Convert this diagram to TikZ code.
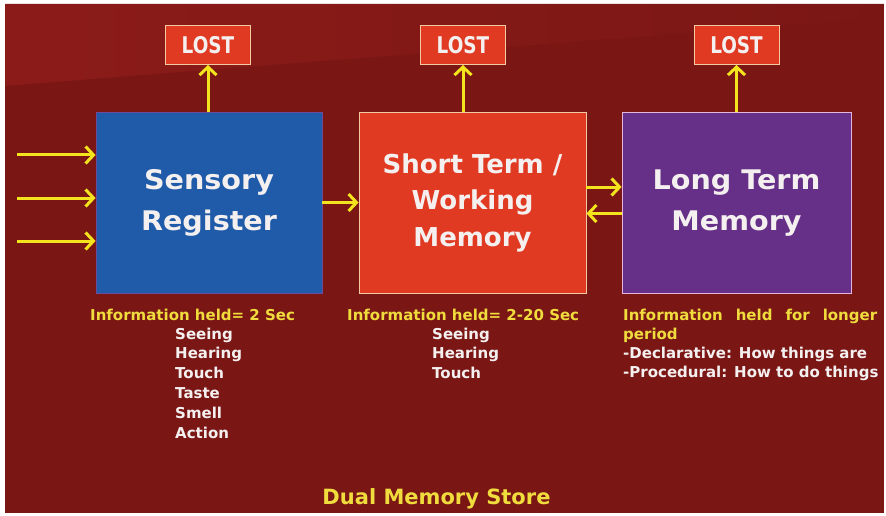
\documentclass[tikz,border=0pt]{standalone}
\usepackage{fontspec}
\setmainfont{DejaVu Sans}
\newfontfamily\boxfont[FakeStretch=1.06]{DejaVu Sans}
\newfontfamily\lostfont[FakeStretch=0.8]{DejaVu Sans}
\usetikzlibrary{arrows.meta}
\definecolor{bgred}{HTML}{7A1715}
\definecolor{bglight}{HTML}{8B1B18}
\definecolor{sensblue}{HTML}{1F5BA9}
\definecolor{shortred}{HTML}{E13A23}
\definecolor{longpurple}{HTML}{663088}
\definecolor{lostred}{HTML}{E13A23}
\definecolor{peach}{HTML}{F3C9A2}
\definecolor{pinkborder}{HTML}{E6B5DD}
\definecolor{blueborder}{HTML}{6A4C9C}
\definecolor{arryellow}{HTML}{F3E41E}
\definecolor{txtyellow}{HTML}{F0DC3C}
\definecolor{txtwhite}{HTML}{F5F0F0}
\begin{document}
\begin{tikzpicture}[x=1pt,y=-1pt,
  membox/.style={draw, line width=0.8pt, inner sep=0pt, align=center,
    minimum height=181pt, text=txtwhite,
    font=\boxfont\bfseries\fontsize{27}{41}\selectfont},
  lostbox/.style={draw=peach, fill=lostred, line width=1pt, inner sep=0pt,
    minimum width=85pt, minimum height=39pt, text=txtwhite,
    font=\lostfont\bfseries\fontsize{23}{23}\selectfont},
  yarr/.style={draw=arryellow, line width=3pt,
    -{Straight Barb[length=8pt,width=17pt]}},
  yeltext/.style={inner sep=0pt, anchor=base west, text=txtyellow,
    font=\bfseries\fontsize{15}{19}\selectfont},
  whttext/.style={inner sep=0pt, anchor=base west, text=txtwhite,
    font=\bfseries\fontsize{15}{19}\selectfont}
]
\useasboundingbox (0,0) rectangle (886,516);
\fill[white] (0,0) rectangle (886,516);
\fill[bgred] (5,4) rectangle (884,513);
\shade[left color=bglight, right color=bgred]
  (5,4) -- (884,4) -- (884,18) .. controls (600,40) and (300,62) .. (5,86) -- cycle;

% memory boxes
\node[membox, fill=sensblue, draw=blueborder, minimum width=226pt] (sr) at (209,202.5) {Sensory\\Register};
\node[membox, fill=shortred, draw=peach, minimum width=227pt,
  font=\bfseries\fontsize{26}{36.5}\selectfont] (st) at (472.5,202.5) {Short Term /\\Working\\Memory};
\node[membox, fill=longpurple, draw=pinkborder, minimum width=229pt] (lt) at (736.5,203) {Long Term\\Memory};

% LOST boxes
\node[lostbox] (l1) at (208,45) {LOST};
\node[lostbox] (l2) at (463,45) {LOST};
\node[lostbox] (l3) at (736.5,45) {LOST};

% arrows to LOST
\draw[yarr] (l1.south |- sr.north) -- (l1.south);
\draw[yarr] (l2.south |- st.north) -- (l2.south);
\draw[yarr] (l3.south |- lt.north) -- (l3.south);

% input arrows
\coordinate (in1) at (17,155);
\coordinate (in2) at (17,198);
\coordinate (in3) at (17,241);
\draw[yarr] (in1) -- (in1 -| sr.west);
\draw[yarr] (in2) -- (in2 -| sr.west);
\draw[yarr] (in3) -- (in3 -| sr.west);

% between boxes
\draw[yarr] (sr.east) -- (st.west);
\draw[yarr] ([yshift=15.5pt]st.east) -- ([yshift=15.5pt]st.east -| lt.west);
\draw[yarr] ([yshift=-10.5pt]lt.west) -- ([yshift=-10.5pt]lt.west -| st.east);

% texts under sensory register
\node[yeltext] (i1) at (90,320) {Information held= 2 Sec};
\node[whttext] (s1) at (175,339) {Seeing};
\node[whttext] (s2) at (175,358.8) {Hearing};
\node[whttext] (s3) at (175,378.6) {Touch};
\node[whttext] (s4) at (175,398.4) {Taste};
\node[whttext] (s5) at (175,418.2) {Smell};
\node[whttext] (s6) at (175,438) {Action};

% texts under short term
\node[yeltext] (i2) at (347,320) {Information held= 2-20 Sec};
\node[whttext] (w1) at (432,339) {Seeing};
\node[whttext] (w2) at (432,358.8) {Hearing};
\node[whttext] (w3) at (432,378.6) {Touch};

% texts under long term
\node[yeltext] (i3) at (623,320) {\hbox to 254pt{Information\hfill held\hfill for\hfill longer}};
\node[yeltext] (i3b) at (623,339) {period};
\node[whttext] (d1) at (623,358) {-Declarative: How things are};
\node[whttext] (d2) at (623,377) {-Procedural: How to do things};

% title
\node[inner sep=0pt, anchor=base, text=txtyellow,
  font=\bfseries\fontsize{21}{21}\selectfont] (title) at (436.5,504) {Dual Memory Store};
\end{tikzpicture}
\end{document}
